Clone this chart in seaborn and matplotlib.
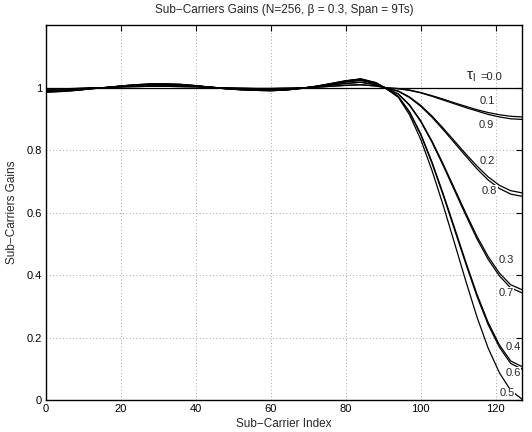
import numpy as np
import pandas as pd
import matplotlib
matplotlib.use('Agg')
import matplotlib.pyplot as plt
import seaborn as sns

# sub-carrier index samples
k_idx = [0, 4, 8, 12, 16, 20, 24, 28, 32, 36, 40, 44, 48, 52, 56, 60, 64, 68, 72, 76, 80, 84, 88,
         91, 94, 97, 100, 103, 106, 109, 112, 115, 118, 121, 124, 127]

gain_00 = [1.0] * len(k_idx)
gain_01 = [0.995, 0.996, 0.997, 0.999, 1.000, 1.002, 1.003, 1.004, 1.004, 1.003, 1.002, 1.000,
           0.999, 0.998, 0.997, 0.997, 0.998, 0.999, 1.001, 1.004, 1.007, 1.009, 1.005,
           0.999, 0.997, 0.992, 0.984, 0.974, 0.963, 0.951, 0.940, 0.929, 0.920, 0.913, 0.908, 0.906]
gain_09 = [0.995, 0.996, 0.997, 0.999, 1.000, 1.002, 1.003, 1.004, 1.004, 1.003, 1.002, 1.000,
           0.999, 0.998, 0.997, 0.997, 0.998, 0.999, 1.001, 1.004, 1.007, 1.009, 1.005,
           0.999, 0.996, 0.991, 0.983, 0.972, 0.960, 0.948, 0.936, 0.925, 0.914, 0.906, 0.900, 0.898]
gain_02 = [0.991, 0.992, 0.995, 0.998, 1.000, 1.003, 1.005, 1.007, 1.007, 1.006, 1.004, 1.001,
           0.998, 0.996, 0.995, 0.994, 0.995, 0.998, 1.002, 1.008, 1.013, 1.017, 1.009,
           0.998, 0.989, 0.970, 0.943, 0.909, 0.870, 0.829, 0.788, 0.749, 0.714, 0.687, 0.670, 0.663]
gain_08 = [0.991, 0.992, 0.995, 0.998, 1.000, 1.003, 1.005, 1.007, 1.007, 1.006, 1.004, 1.001,
           0.998, 0.996, 0.995, 0.994, 0.995, 0.998, 1.002, 1.008, 1.013, 1.017, 1.009,
           0.998, 0.988, 0.968, 0.940, 0.905, 0.865, 0.823, 0.781, 0.740, 0.704, 0.677, 0.659, 0.652]
gain_03 = [0.988, 0.989, 0.993, 0.997, 1.000, 1.004, 1.007, 1.010, 1.010, 1.008, 1.005, 1.001,
           0.997, 0.994, 0.993, 0.992, 0.994, 0.998, 1.003, 1.011, 1.018, 1.023, 1.013,
           0.996, 0.980, 0.945, 0.894, 0.829, 0.755, 0.677, 0.599, 0.524, 0.459, 0.406, 0.369, 0.353]
gain_07 = [0.988, 0.989, 0.993, 0.997, 1.000, 1.004, 1.007, 1.010, 1.010, 1.008, 1.005, 1.001,
           0.997, 0.994, 0.993, 0.992, 0.994, 0.998, 1.003, 1.011, 1.018, 1.023, 1.013,
           0.996, 0.979, 0.943, 0.891, 0.825, 0.750, 0.671, 0.592, 0.516, 0.450, 0.397, 0.359, 0.343]
gain_04 = [0.986, 0.988, 0.991, 0.996, 1.000, 1.005, 1.009, 1.011, 1.011, 1.010, 1.006, 1.001,
           0.996, 0.993, 0.991, 0.990, 0.992, 0.997, 1.004, 1.012, 1.021, 1.027, 1.015,
           0.995, 0.972, 0.923, 0.852, 0.762, 0.660, 0.552, 0.443, 0.339, 0.248, 0.176, 0.125, 0.107]
gain_06 = [0.986, 0.988, 0.991, 0.996, 1.000, 1.005, 1.009, 1.011, 1.011, 1.010, 1.006, 1.001,
           0.996, 0.993, 0.991, 0.990, 0.992, 0.997, 1.004, 1.012, 1.021, 1.027, 1.015,
           0.995, 0.971, 0.921, 0.849, 0.758, 0.655, 0.546, 0.437, 0.332, 0.241, 0.169, 0.117, 0.099]
gain_05 = [0.985, 0.987, 0.991, 0.996, 1.000, 1.005, 1.009, 1.012, 1.012, 1.010, 1.006, 1.001,
           0.996, 0.993, 0.991, 0.990, 0.992, 0.997, 1.004, 1.013, 1.022, 1.028, 1.016,
           0.995, 0.969, 0.913, 0.834, 0.735, 0.623, 0.503, 0.382, 0.266, 0.166, 0.087, 0.031, 0.003]

tau_values = ['0.0', '0.1', '0.2', '0.3', '0.4', '0.5', '0.6', '0.7', '0.8', '0.9']
gains = [gain_00, gain_01, gain_02, gain_03, gain_04, gain_05, gain_06, gain_07, gain_08, gain_09]

# curve labels: (text, x, y) in data units
label_text = ['0.1', '0.9', '0.2', '0.8', '0.3', '0.7', '0.4', '0.6', '0.5']
label_x = [115.7, 115.5, 115.7, 116.3, 120.8, 120.8, 122.6, 122.6, 121.0]
label_y = [0.956, 0.881, 0.766, 0.670, 0.449, 0.343, 0.170, 0.087, 0.021]

df = pd.DataFrame({
    'k': np.tile(k_idx, len(tau_values)),
    'gain': np.concatenate(gains),
    'tau': np.repeat(tau_values, len(k_idx)),
})

sns.set_style('white')
plt.rcParams['font.family'] = ['Liberation Sans', 'DejaVu Sans']
plt.rcParams['mathtext.fontset'] = 'custom'
plt.rcParams['mathtext.rm'] = 'Liberation Sans'
plt.rcParams['mathtext.it'] = 'Liberation Sans'

fig = plt.figure(figsize=(5.32, 4.32), dpi=100)
ax = fig.add_axes([0.0865, 0.0741, 0.8945, 0.8679])

sns.lineplot(data=df, x='k', y='gain', units='tau', estimator=None, color='black',
             lw=0.9, ax=ax, legend=False)

ax.set_xlim(0, 127)
ax.set_ylim(0, 1.2)
ax.set_xticks([0, 20, 40, 60, 80, 100, 120])
ax.set_yticks([0, 0.2, 0.4, 0.6, 0.8, 1.0])
ax.set_yticklabels(['0', '0.2', '0.4', '0.6', '0.8', '1'])
ax.tick_params(direction='in', length=4, width=0.8, labelsize=8, top=True, right=True,
               colors='black', pad=3)
ax.grid(True, color='#888888', linestyle=(0, (1, 3)), linewidth=0.6)
for s in ax.spines.values():
    s.set_linewidth(1.0)
    s.set_color('black')

ax.set_title('Sub\u2212Carriers Gains (N=256, \u03b2 = 0.3, Span = 9Ts)', fontsize=8.5, pad=9)
ax.set_xlabel('Sub\u2212Carrier Index', fontsize=8.5, labelpad=3)
ax.set_ylabel('Sub\u2212Carriers Gains', fontsize=8.5, labelpad=6)

ax.text(112.0, 1.035, r'$\tau_l$', fontsize=11, va='center', ha='left')
ax.text(116.0, 1.035, '=0.0', fontsize=8, va='center', ha='left')
for t, x, y in zip(label_text, label_x, label_y):
    ax.text(x, y, t, fontsize=8, va='center', ha='left',
            bbox=dict(facecolor='white', edgecolor='none', pad=0.3))

fig.savefig('out.png', dpi=100)
